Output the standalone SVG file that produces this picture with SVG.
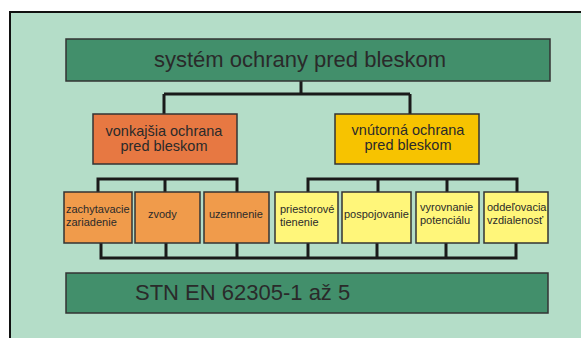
<svg xmlns="http://www.w3.org/2000/svg" width="581" height="338" viewBox="0 0 581 338">
<style>
.bx{stroke:#333;stroke-width:1.5}
.g{fill:#428f6b}
.o{fill:#e77842}
.y{fill:#f7c300}
.lo{fill:#f09b4b}
.ly{fill:#fff67a}
.t{font-family:"Liberation Sans",Arial,sans-serif;fill:#2a2a2a}
.big{font-size:22px}
.mid{font-size:14.5px}
.sm{font-size:11px}
.c{fill:none;stroke:#1a1a1a;stroke-width:3}
</style>
<rect x="0" y="0" width="581" height="338" fill="#ffffff"/>
<rect x="10" y="12" width="575" height="330" fill="#b4ddc8" stroke="#111" stroke-width="2"/>
<g id="connectors">
<path class="c" d="M301 81V94M164 94H410M164 94V114M410 94V114"/>
<path class="c" d="M98 192V179H237V192M165 179V192"/>
<path class="c" d="M308 192V179H517V192M378 179V192M447 179V192"/>
<path class="c" d="M101 243V258H516V243M166 243V258M237 243V258M308 243V258M377 243V258M446 243V258"/>
</g>
<g id="top">
<rect class="bx g" x="66" y="39" width="484" height="42"/>
<text class="t big" x="300" y="67" text-anchor="middle">systém ochrany pred bleskom</text>
</g>
<g id="vonkajsia">
<rect class="bx o" x="93" y="114" width="144" height="50"/>
<text class="t mid" x="164" y="136" text-anchor="middle">vonkajšia ochrana</text>
<text class="t mid" x="164" y="151" text-anchor="middle">pred bleskom</text>
</g>
<g id="vnutorna">
<rect class="bx y" x="335" y="114" width="144" height="50"/>
<text class="t mid" x="408" y="135" text-anchor="middle">vnútorná ochrana</text>
<text class="t mid" x="408" y="150" text-anchor="middle">pred bleskom</text>
</g>
<g id="zachytavacie">
<rect class="bx lo" x="64" y="192" width="68" height="51"/>
<text class="t sm" x="66" y="213">zachytavacie</text>
<text class="t sm" x="66" y="226">zariadenie</text>
</g>
<g id="zvody">
<rect class="bx lo" x="135" y="192" width="65" height="51"/>
<text class="t sm" x="148" y="218">zvody</text>
</g>
<g id="uzemnenie">
<rect class="bx lo" x="204" y="192" width="65" height="51"/>
<text class="t sm" x="209" y="218">uzemnenie</text>
</g>
<g id="priestorove">
<rect class="bx ly" x="275" y="192" width="63" height="51"/>
<text class="t sm" x="280" y="213">priestorové</text>
<text class="t sm" x="280" y="226">tienenie</text>
</g>
<g id="pospojovanie">
<rect class="bx ly" x="342" y="192" width="69" height="51"/>
<text class="t sm" x="344" y="218">pospojovanie</text>
</g>
<g id="vyrovnanie">
<rect class="bx ly" x="416" y="192" width="63" height="51"/>
<text class="t sm" x="420" y="211">vyrovnanie</text>
<text class="t sm" x="420" y="224">potenciálu</text>
</g>
<g id="oddelovacia">
<rect class="bx ly" x="484" y="192" width="64" height="51"/>
<text class="t sm" x="487" y="211">oddeľovacia</text>
<text class="t sm" x="487" y="224">vzdialenosť</text>
</g>
<g id="stn">
<rect class="bx g" x="66" y="273" width="482" height="40"/>
<text class="t big" x="135" y="300">STN EN 62305-1 až 5</text>
</g>
</svg>
